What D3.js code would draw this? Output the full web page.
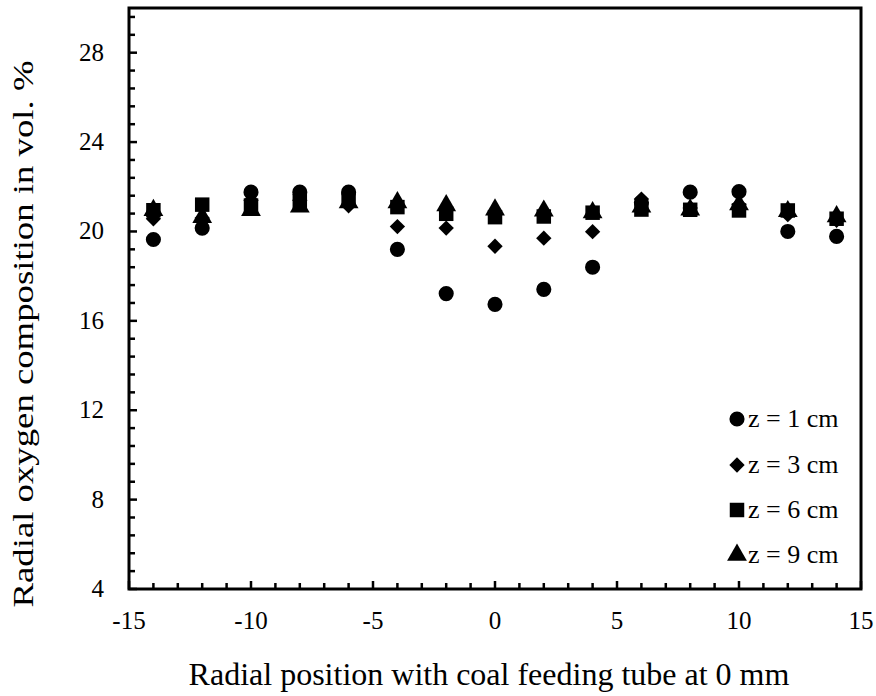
<!DOCTYPE html>
<html>
<head>
<meta charset="utf-8">
<script src="https://cdn.jsdelivr.net/npm/d3@7"></script>
<style>
  html, body { margin: 0; padding: 0; background: #fff; }
  svg text { font-family: "Liberation Serif", "Times New Roman", serif; fill: #000; }
</style>
</head>
<body>
<svg id="chart" width="876" height="696"></svg>
<script>
// Radial positions (mm) of the sampling points
const positions = [-14, -12, -10, -8, -6, -4, -2, 0, 2, 4, 6, 8, 10, 12, 14];

// Oxygen concentration (vol. %) at each axial distance z
const z1 = [19.64, 20.15, 21.76, 21.76, 21.76, 19.2, 17.22, 16.74, 17.41, 18.4, 21.3, 21.76, 21.78, 20.0, 19.78];
const z3 = [20.57, 20.6, 21.4, 21.4, 21.15, 20.22, 20.15, 19.34, 19.7, 19.99, 21.45, 21.05, 21.2, 20.75, 20.5];
const z6 = [20.95, 21.2, 21.16, 21.35, 21.4, 21.09, 20.79, 20.64, 20.67, 20.84, 20.98, 20.97, 20.94, 20.94, 20.57];
const z9 = [20.95, 20.64, 20.95, 21.1, 21.3, 21.3, 21.16, 20.97, 20.92, 20.85, 21.1, 20.97, 21.2, 20.9, 20.67];

const seriesNames = ["z = 1 cm", "z = 3 cm", "z = 6 cm", "z = 9 cm"];
const seriesValues = [z1, z3, z6, z9];
const seriesSymbols = [d3.symbolCircle, d3.symbolDiamond2, d3.symbolSquare, d3.symbolTriangle];

const xTicks = [-15, -10, -5, 0, 5, 10, 15];
const yTicks = [4, 8, 12, 16, 20, 24, 28];

const xLabel = "Radial position with coal feeding tube at 0 mm";
const yLabel = "Radial oxygen composition in vol. %";

const svg = d3.select("#chart");
const plot = { left: 129, right: 861, top: 8, bottom: 589 };

const x = d3.scaleLinear().domain([-15, 15]).range([plot.left, plot.right]);
const y = d3.scaleLinear().domain([4, 30]).range([plot.bottom, plot.top]);

// Minor ticks: every 1 mm on x, every 0.8 % on y
const xMinor = d3.range(-15, 15.001, 1);
const yMinor = d3.range(4, 30.001, 0.8);

const g = svg.append("g");

// Inward-facing ticks
g.append("g").selectAll("line").data(xMinor).join("line")
  .attr("x1", d => x(d)).attr("x2", d => x(d))
  .attr("y1", plot.bottom).attr("y2", d => plot.bottom - (Math.abs(d % 5) < 1e-6 ? 8 : 6))
  .attr("stroke", "#000").attr("stroke-width", 2.5);

g.append("g").selectAll("line").data(yMinor).join("line")
  .attr("y1", d => y(d)).attr("y2", d => y(d))
  .attr("x1", plot.left).attr("x2", d => plot.left + (Math.abs((d - 4) / 4 - Math.round((d - 4) / 4)) < 1e-6 ? 8 : 6))
  .attr("stroke", "#000").attr("stroke-width", 2.5);

// Frame
g.append("rect")
  .attr("x", plot.left).attr("y", plot.top)
  .attr("width", plot.right - plot.left).attr("height", plot.bottom - plot.top)
  .attr("fill", "none").attr("stroke", "#000").attr("stroke-width", 3);

// Tick labels
g.append("g").selectAll("text").data(xTicks).join("text")
  .attr("x", d => x(d)).attr("y", 629)
  .attr("text-anchor", "middle").attr("font-size", 25)
  .text(d => d);

g.append("g").selectAll("text").data(yTicks).join("text")
  .attr("x", 104).attr("y", d => y(d) + 8)
  .attr("text-anchor", "end").attr("font-size", 25)
  .text(d => d);

// Axis titles
svg.append("text")
  .attr("x", 489).attr("y", 685)
  .attr("text-anchor", "middle").attr("font-size", 32)
  .text(xLabel);

svg.append("text")
  .attr("transform", "translate(33,334) rotate(-90)")
  .attr("text-anchor", "middle").attr("font-size", 30)
  .attr("textLength", 547).attr("lengthAdjust", "spacingAndGlyphs")
  .text(yLabel);

// Markers
const symSize = [180, 150, 210, 170];
seriesValues.forEach((vals, si) => {
  const sym = d3.symbol().type(seriesSymbols[si]).size(symSize[si]);
  g.append("g").selectAll("path").data(vals).join("path")
    .attr("transform", (d, i) => `translate(${x(positions[i])},${y(d)})`)
    .attr("d", sym)
    .attr("fill", "#000");
});

// Legend
const legendY = [419, 465, 510, 555];
seriesNames.forEach((name, si) => {
  const sym = d3.symbol().type(seriesSymbols[si]).size(symSize[si]);
  svg.append("path")
    .attr("transform", `translate(737,${legendY[si]})`)
    .attr("d", sym).attr("fill", "#000");
  svg.append("text")
    .attr("x", 748).attr("y", legendY[si] + 8)
    .attr("font-size", 26)
    .text(name);
});
</script>
</body>
</html>
